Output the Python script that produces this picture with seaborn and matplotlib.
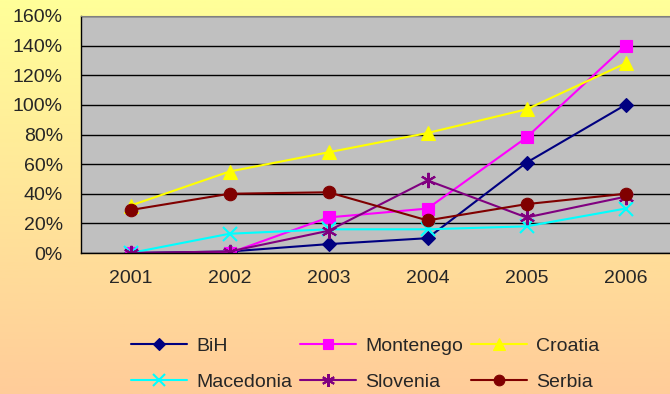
import numpy as np
import pandas as pd
import matplotlib
matplotlib.use("Agg")
import matplotlib.pyplot as plt
import seaborn as sns
from matplotlib.ticker import FuncFormatter, FixedLocator

years = ["2001", "2002", "2003", "2004", "2005", "2006"]
bih = [0, 1, 6, 10, 61, 100]
montenegro = [0, 0, 24, 30, 78, 140]
croatia = [32, 55, 68, 81, 97, 128]
macedonia = [0, 13, 16, 16, 18, 30]
slovenia = [0, 1, 15, 49, 24, 38]
serbia = [29, 40, 41, 22, 33, 40]

series_names = ["BiH", "Montenego", "Croatia", "Macedonia", "Slovenia", "Serbia"]
series_values = [bih, montenegro, croatia, macedonia, slovenia, serbia]
colors = ["#000080", "#FF00FF", "#FFFF00", "#00FFFF", "#800080", "#800000"]
markers = ["D", "s", "^", "x", (6, 2, 0), "o"]
sizes = [7, 8, 10, 10, 11, 9]

rows = []
for name, vals in zip(series_names, series_values):
    for i, (yr, v) in enumerate(zip(years, vals)):
        rows.append({"pos": i, "year": yr, "value": v, "series": name})
df = pd.DataFrame(rows)

sns.set_style("white")
plt.rcParams["font.family"] = ["Liberation Sans", "DejaVu Sans"]

W, H = 670, 394
fig = plt.figure(figsize=(W / 100, H / 100), dpi=100)

# vertical gradient backdrop
bg = fig.add_axes([0, 0, 1, 1], zorder=-10)
top = np.array([255, 255, 153]) / 255
bot = np.array([255, 204, 153]) / 255
t = np.linspace(0, 1, 256)[:, None]
grad = (top[None, :] * (1 - t) + bot[None, :] * t)[:, None, :]
bg.imshow(grad, aspect="auto", extent=[0, 1, 0, 1])
bg.set_axis_off()

left, right, ytop, ybot = 81, 675, 16, 253
ax = fig.add_axes([left / W, (H - ybot) / H, (right - left) / W, (ybot - ytop) / H])
ax.set_facecolor("#C0C0C0")

for name, col, mk, ms in zip(series_names, colors, markers, sizes):
    sub = df[df["series"] == name]
    sns.lineplot(data=sub, x="pos", y="value", ax=ax, color=col, marker=mk,
                 markersize=ms, markeredgecolor=col,
                 markeredgewidth=1.5 if mk in ("x", (6, 2, 0)) else 0.8,
                 linewidth=1.5, label=name, legend=False)

ax.set_xlim(-0.5, 5.5)
ax.set_ylim(0, 160)
ax.set_yticks(np.arange(0, 161, 20))
ax.yaxis.set_major_formatter(FuncFormatter(lambda v, p: f"{int(v)}%"))
ax.yaxis.grid(True, color="black", linewidth=1)
ax.set_axisbelow(True)
ax.set_xticks(range(len(years)))
ax.set_xticklabels(years)
ax.xaxis.set_minor_locator(FixedLocator(np.arange(-0.5, 6, 1)))
ax.tick_params(axis="x", which="major", length=0, pad=12, labelsize=14)
ax.tick_params(axis="x", which="minor", length=5, width=1, color="black", direction="out")
ax.tick_params(axis="y", length=5, width=1, color="black", direction="out", labelsize=14, pad=8)
ax.set_xlabel("")
ax.set_ylabel("")
for s in ["left", "bottom"]:
    ax.spines[s].set_color("black")
    ax.spines[s].set_linewidth(1)
ax.spines["top"].set_color("#808080")
ax.spines["right"].set_visible(False)

# legend laid out row by row (3 columns, 2 rows)
handles, labels = ax.get_legend_handles_labels()
order = [0, 3, 1, 4, 2, 5]
fig.legend([handles[i] for i in order], [labels[i] for i in order],
           loc="center", bbox_to_anchor=(0.545, 0.076), ncol=3,
           frameon=False, fontsize=14, handlelength=2.9, columnspacing=0.4,
           handletextpad=0.45, labelspacing=0.95, markerscale=0.85)

fig.savefig("out.png", dpi=100)
